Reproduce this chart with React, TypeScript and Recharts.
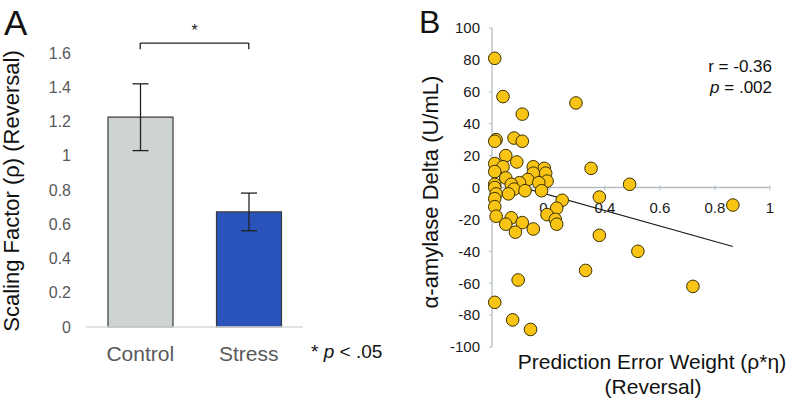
import React from 'react';
import {
  ComposedChart,
  Bar,
  Cell,
  ErrorBar,
  XAxis,
  YAxis,
  ReferenceLine,
  ReferenceDot,
  Scatter,
  Line,
} from 'recharts';

// ---------- Panel A data ----------
const groups = ['Control', 'Stress'];
const scalingMeans = [1.225, 0.672];
const scalingErrors = [0.195, 0.11];
const barColors = ['#CED4D4', '#2B53BC'];
const yTicksA = [0, 0.2, 0.4, 0.6, 0.8, 1, 1.2, 1.4, 1.6];

// ---------- Panel B data ----------
const weightX = [
  0.0, 0.03, 0.1, 0.295, 0.005, 0.0, 0.07, 0.1, 0.04, 0.0,
  0.08, 0.03, 0.14, 0.18, 0.35, 0.0, 0.14, 0.185, 0.04, 0.12,
  0.19, 0.09, 0.16, 0.06, 0.0, 0.49, 0.0, 0.07, 0.11, 0.17,
  0.005, 0.05, 0.0, 0.245, 0.38, 0.0, 0.865, 0.225, 0.005, 0.06,
  0.04, 0.1, 0.075, 0.14, 0.19, 0.22, 0.225, 0.38, 0.52, 0.33,
  0.085, 0.72, 0.0, 0.065, 0.13,
];
const amylaseY = [
  81, 57, 46, 53, 30, 29, 31, 29, 20, 15,
  16, 13, 13, 12, 12, 10, 9, 9, 6, 5,
  4, 3, 3, 2, 2, 2, 0, -1, -2, -2,
  -4, -4, -7, -8, -6, -12, -11, -13, -18, -19,
  -23, -22, -28, -26, -17, -20, -23, -30, -40, -52,
  -58, -62, -72, -83, -89,
];
const trendX = [0, 0.865];
const trendY = [5, -37];
const xTicksB = [0, 0.2, 0.4, 0.6, 0.8, 1];
const yTicksB = [-100, -80, -60, -40, -20, 0, 20, 40, 60, 80, 100];

const FONT = '"Liberation Sans", Arial, sans-serif';
const axisColorB = '#B3BDC3';

const barData = groups.map((g, i) => ({ group: g, mean: scalingMeans[i], err: scalingErrors[i] }));
const scatterData = weightX.map((x, i) => ({ x, y: amylaseY[i] }));
const trendData = trendX.map((x, i) => ({ x, y: trendY[i] }));

const Dot = (props: any) => (
  <circle cx={props.cx} cy={props.cy} r={6.3} fill="#F9C414" stroke="#3A3000" strokeWidth={1} />
);

const makeXTick = (label: string) => (props: any) => {
  const { cx, cy } = props;
  return (
    <g>
      <line x1={cx} x2={cx} y1={cy - 2} y2={cy + 3} stroke={axisColorB} strokeWidth={1} />
      <text x={cx} y={cy + 25} textAnchor="middle" fontSize={15} fill="#1a1a1a" fontFamily={FONT}>
        {label}
      </text>
    </g>
  );
};

export default function App() {
  return (
    <div style={{ position: 'absolute', left: 0, top: 0, width: 796, height: 403, background: '#fff', fontFamily: FONT }}>
      <div style={{ position: 'absolute', left: 0, top: 0 }}>
        <ComposedChart width={400} height={403} data={barData} margin={{ top: 53, right: 97, bottom: 36, left: 0 }}>
          <XAxis
            dataKey="group"
            height={40}
            axisLine={{ stroke: '#D9D9D9', strokeWidth: 1.5 }}
            tickLine={false}
            tickSize={0}
            tickMargin={19}
            tick={{ fontSize: 21, fill: '#595959', fontFamily: FONT }}
          />
          <YAxis
            width={86}
            domain={[0, 1.6]}
            ticks={yTicksA}
            axisLine={false}
            tickLine={false}
            tickSize={0}
            tickMargin={15}
            tick={{ fontSize: 16, fill: '#595959', fontFamily: FONT }}
          />
          <Bar dataKey="mean" barSize={65} stroke="#3a3a3a" strokeWidth={1.2} isAnimationActive={false}>
            {barData.map((d, i) => (
              <Cell key={d.group} fill={barColors[i]} />
            ))}
            <ErrorBar dataKey="err" width={8} stroke="#222" strokeWidth={1.3} />
          </Bar>
          <ReferenceLine
            segment={[{ x: 'Control', y: 1.658 }, { x: 'Stress', y: 1.658 }]}
            ifOverflow="visible"
            stroke="#222"
            strokeWidth={1.3}
            label={{ value: '*', position: 'top', offset: 7, fontSize: 16, fill: '#222', fontFamily: FONT }}
          />
          <ReferenceLine
            segment={[{ x: 'Control', y: 1.658 }, { x: 'Control', y: 1.622 }]}
            ifOverflow="visible"
            stroke="#222"
            strokeWidth={1.3}
          />
          <ReferenceLine
            segment={[{ x: 'Stress', y: 1.658 }, { x: 'Stress', y: 1.622 }]}
            ifOverflow="visible"
            stroke="#222"
            strokeWidth={1.3}
          />
        </ComposedChart>
      </div>
      <div style={{ position: 'absolute', left: 400, top: 0 }}>
        <ComposedChart width={396} height={403} margin={{ top: 28, right: 26, bottom: 56, left: 0 }}>
          <XAxis dataKey="x" type="number" domain={[-0.01, 1]} ticks={xTicksB} hide />
          <YAxis
            dataKey="y"
            type="number"
            width={92}
            domain={[-100, 100]}
            ticks={yTicksB}
            axisLine={{ stroke: axisColorB, strokeWidth: 1.3 }}
            tickLine={{ stroke: axisColorB }}
            tickSize={3}
            tickMargin={9}
            tick={{ fontSize: 15, fill: '#1a1a1a', fontFamily: FONT }}
          />
          <ReferenceLine y={0} stroke={axisColorB} strokeWidth={1.3} />
          {xTicksB.map((t) => (
            <ReferenceDot key={t} x={t} y={0} r={0} shape={makeXTick(String(t))} />
          ))}
          <Scatter data={scatterData} dataKey="y" shape={Dot} isAnimationActive={false} />
          <Line
            data={trendData}
            dataKey="y"
            stroke="#1a1a1a"
            strokeWidth={1.2}
            dot={false}
            activeDot={false}
            isAnimationActive={false}
          />
        </ComposedChart>
      </div>
      <svg width={796} height={403} style={{ position: 'absolute', left: 0, top: 0, pointerEvents: 'none' }} fontFamily={FONT}>
        <text x={4} y={35} fontSize={35} fill="#111">A</text>
        <text x={419} y={33} fontSize={32} fill="#111">B</text>
        <text transform="translate(19,191) rotate(-90)" textAnchor="middle" fontSize={22} fill="#111">
          Scaling Factor (ρ) (Reversal)
        </text>
        <text transform="translate(438,192) rotate(-90)" textAnchor="middle" fontSize={22} fill="#111">
          α-amylase Delta (U/mL)
        </text>
        <text x={652} y={369} textAnchor="middle" fontSize={21} fill="#111">
          Prediction Error Weight (ρ*η)
        </text>
        <text x={653} y={394} textAnchor="middle" fontSize={21} fill="#111">
          (Reversal)
        </text>
        <text x={772} y={72} textAnchor="end" fontSize={17} fill="#111">r = -0.36</text>
        <text x={772} y={93} textAnchor="end" fontSize={17} fill="#111">
          <tspan fontStyle="italic">p</tspan> = .002
        </text>
        <text x={311} y={358} fontSize={19} fill="#111">
          * <tspan fontStyle="italic">p</tspan> &lt; .05
        </text>
      </svg>
    </div>
  );
}
